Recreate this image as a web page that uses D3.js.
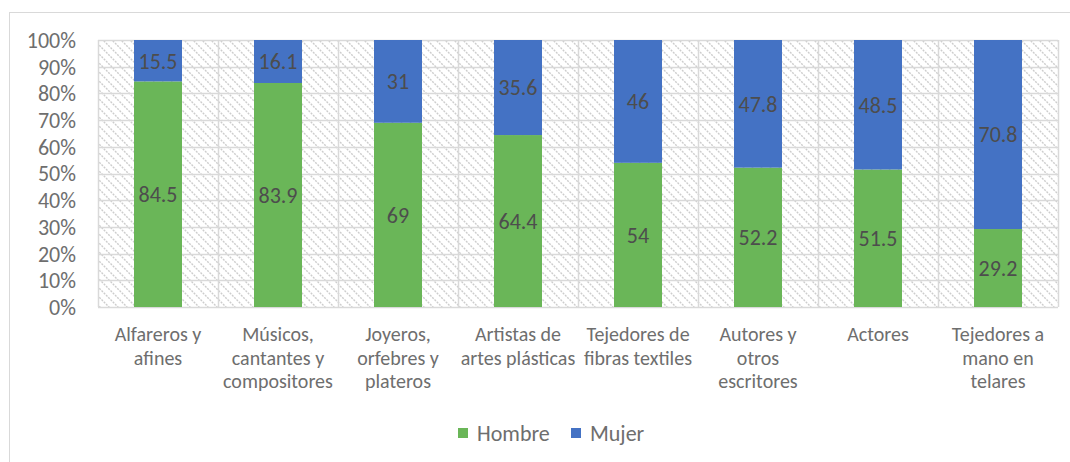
<!DOCTYPE html>
<html>
<head>
<meta charset="utf-8">
<script src="https://cdn.jsdelivr.net/npm/d3@7"></script>
<style>
  body { margin: 0; background: #fff; }
  text { font-family: Carlito, Calibri, Lato, sans-serif; }
</style>
</head>
<body>
<div id="chart"></div>
<script>
// data
var categories = [
  ["Alfareros y", "afines"],
  ["Músicos,", "cantantes y", "compositores"],
  ["Joyeros,", "orfebres y", "plateros"],
  ["Artistas de", "artes plásticas"],
  ["Tejedores de", "fibras textiles"],
  ["Autores y", "otros", "escritores"],
  ["Actores"],
  ["Tejedores a", "mano en", "telares"]
];
var hombre = [84.5, 83.9, 69, 64.4, 54, 52.2, 51.5, 29.2];
var mujer = [15.5, 16.1, 31, 35.6, 46, 47.8, 48.5, 70.8];
var yTicks = [0, 10, 20, 30, 40, 50, 60, 70, 80, 90, 100];
var seriesNames = ["Hombre", "Mujer"];
var colors = ["#6AB658", "#4472C4"];

var width = 1070, height = 462;
var margin = {top: 40, right: 12, bottom: 155, left: 98};

var svg = d3.select("#chart").append("svg")
    .attr("width", width)
    .attr("height", height);

// hatch pattern for plot background
var defs = svg.append("defs");
var pat = defs.append("pattern")
    .attr("id", "hatch")
    .attr("patternUnits", "userSpaceOnUse")
    .attr("width", 9).attr("height", 9);
pat.append("rect").attr("width", 9).attr("height", 9).attr("fill", "#fff");
pat.append("path")
    .attr("d", "M-2,-2 L11,11 M-2,7 L2,11 M7,-2 L11,2")
    .attr("stroke", "#cdcdcd")
    .attr("stroke-width", 1.4)
    .attr("stroke-dasharray", "2,1.2");

// outer frame
svg.append("rect")
    .attr("x", 9.5).attr("y", 12.5)
    .attr("width", 1080).attr("height", 480)
    .attr("fill", "none")
    .attr("stroke", "#d9d9d9");

var x = d3.scaleBand()
    .domain(d3.range(categories.length))
    .range([margin.left, width - margin.right])
    .paddingInner(0).paddingOuter(0);

var y = d3.scaleLinear()
    .domain([0, 100])
    .range([height - margin.bottom, margin.top]);

var g = svg.append("g");

g.append("rect")
    .attr("x", x.range()[0]).attr("y", y(100))
    .attr("width", x.range()[1] - x.range()[0])
    .attr("height", y(0) - y(100))
    .attr("fill", "url(#hatch)");

// horizontal gridlines
g.selectAll(".hgrid")
  .data(yTicks)
  .enter().append("line")
    .attr("x1", x.range()[0]).attr("x2", x.range()[1])
    .attr("y1", function(d) { return Math.round(y(d)) + 0.5; })
    .attr("y2", function(d) { return Math.round(y(d)) + 0.5; })
    .attr("stroke", "#d9d9d9")
    .attr("stroke-width", 1.5);

// vertical gridlines at category boundaries
g.selectAll(".vgrid")
  .data(d3.range(categories.length + 1))
  .enter().append("line")
    .attr("x1", function(d) { return Math.round(x.range()[0] + d * x.bandwidth()) + 0.5; })
    .attr("x2", function(d) { return Math.round(x.range()[0] + d * x.bandwidth()) + 0.5; })
    .attr("y1", y(100)).attr("y2", y(0))
    .attr("stroke", "#d9d9d9")
    .attr("stroke-width", 1.5);

// stacked bars
var rows = hombre.map(function(h, i) { return {i: i, Hombre: h, Mujer: mujer[i]}; });
var stack = d3.stack().keys(seriesNames)(rows);
var barW = x.bandwidth() * 0.4;

stack.forEach(function(layer, k) {
  var lg = g.append("g");
  lg.selectAll("rect")
    .data(layer)
    .enter().append("rect")
      .attr("x", function(d) { return x(d.data.i) + (x.bandwidth() - barW) / 2; })
      .attr("y", function(d) { return y(d[1]); })
      .attr("width", barW)
      .attr("height", function(d) { return y(d[0]) - y(d[1]); })
      .attr("fill", colors[k]);
  lg.selectAll("text")
    .data(layer)
    .enter().append("text")
      .attr("x", function(d) { return x(d.data.i) + x.bandwidth() / 2; })
      .attr("y", function(d) { return (y(d[0]) + y(d[1])) / 2; })
      .attr("dy", "0.36em")
      .attr("text-anchor", "middle")
      .attr("font-size", 22)
      .attr("fill", "#4d4d4d")
      .text(function(d) { return d.data[layer.key]; });
});

// y axis labels
g.selectAll(".ytick")
  .data(yTicks)
  .enter().append("text")
    .attr("x", 76)
    .attr("y", function(d) { return y(d); })
    .attr("dy", "0.36em")
    .attr("text-anchor", "end")
    .attr("font-size", 22)
    .attr("fill", "#6e6e6e")
    .text(function(d) { return d + "%"; });

// category labels
categories.forEach(function(lines, i) {
  var t = g.append("text")
      .attr("text-anchor", "middle")
      .attr("font-size", 20)
      .attr("fill", "#6e6e6e");
  lines.forEach(function(s, j) {
    t.append("tspan")
      .attr("x", x(i) + x.bandwidth() / 2)
      .attr("y", 341 + j * 23.5)
      .text(s);
  });
});

// legend
var legendX = [458, 571];
seriesNames.forEach(function(name, k) {
  svg.append("rect")
    .attr("x", legendX[k]).attr("y", 428)
    .attr("width", 10).attr("height", 10)
    .attr("fill", colors[k]);
  svg.append("text")
    .attr("x", legendX[k] + 19).attr("y", 433)
    .attr("dy", "0.36em")
    .attr("font-size", 22)
    .attr("fill", "#6e6e6e")
    .text(name);
});
</script>
</body>
</html>
